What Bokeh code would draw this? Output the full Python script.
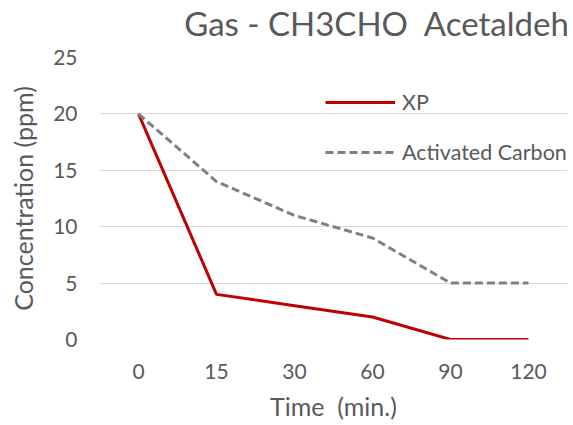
from bokeh.plotting import figure
from bokeh.layouts import column
from bokeh.models import Legend, LegendItem, FixedTicker, Label
from bokeh.embed import file_html
from bokeh.resources import INLINE

times = ["0", "15", "30", "60", "90", "120"]
xp = [20, 4, 3, 2, 0, 0]
carbon = [20, 14, 11, 9, 5, 5]
y_ticks = [0, 5, 10, 15, 20, 25]
title_text = "Gas - CH3CHO\u00a0\u00a0Acetaldehyde"
FONT = "Lato"
GRAY = "#595959"

# --- title strip (its own small canvas so the text is never clipped) ---
t = figure(width=573, height=45, x_axis_type=None, y_axis_type=None,
           output_backend="svg", toolbar_location=None, min_border=0)
t.outline_line_color = None
t.grid.visible = False
t.add_layout(Label(x=303, y=23, x_units="screen", y_units="screen", text=title_text,
                   text_align="center", text_baseline="middle", text_font=FONT,
                   text_font_size="33px", text_color=GRAY))

# --- main chart ---
p = figure(width=573, height=380, x_range=times, y_range=(0, 25),
           output_backend="svg", toolbar_location=None,
           min_border_left=99, min_border_right=6, min_border_top=12, min_border_bottom=86)
p.outline_line_color = None
p.background_fill_color = "white"

r1 = p.line(times, xp, line_color="#C00000", line_width=3)
r2 = p.line(times, carbon, line_color="#808080", line_width=3, line_dash="8 4")

p.xgrid.grid_line_color = None
p.ygrid.grid_line_color = "#D9D9D9"
p.ygrid.grid_line_width = 1
p.yaxis.ticker = FixedTicker(ticks=y_ticks)

for ax in (p.xaxis[0], p.yaxis[0]):
    ax.major_tick_line_color = None
    ax.minor_tick_line_color = None
    ax.axis_line_color = None
    ax.major_label_text_font = FONT
    ax.major_label_text_font_size = "21px"
    ax.major_label_text_color = GRAY
    ax.axis_label_text_font = FONT
    ax.axis_label_text_font_size = "25px"
    ax.axis_label_text_color = GRAY
    ax.axis_label_text_font_style = "normal"

p.xaxis.axis_label = "Time\u00a0\u00a0(min.)"
p.yaxis.axis_label = "Concentration (ppm)"
p.xaxis.major_label_standoff = 18
p.xaxis.axis_label_standoff = 9
p.yaxis.major_label_standoff = 16
p.yaxis.axis_label_standoff = 12

legend = Legend(items=[LegendItem(label="XP", renderers=[r1]),
                       LegendItem(label="Activated Carbon", renderers=[r2])],
                location=(226, 174), padding=0, margin=0, spacing=24,
                glyph_width=70, glyph_height=26, label_standoff=7,
                label_text_font=FONT, label_text_font_size="21.5px",
                label_text_color=GRAY, background_fill_alpha=0,
                border_line_color=None)
p.add_layout(legend, "center")

layout = column(t, p, spacing=0)
open("out.html", "w").write(file_html(layout, INLINE))
